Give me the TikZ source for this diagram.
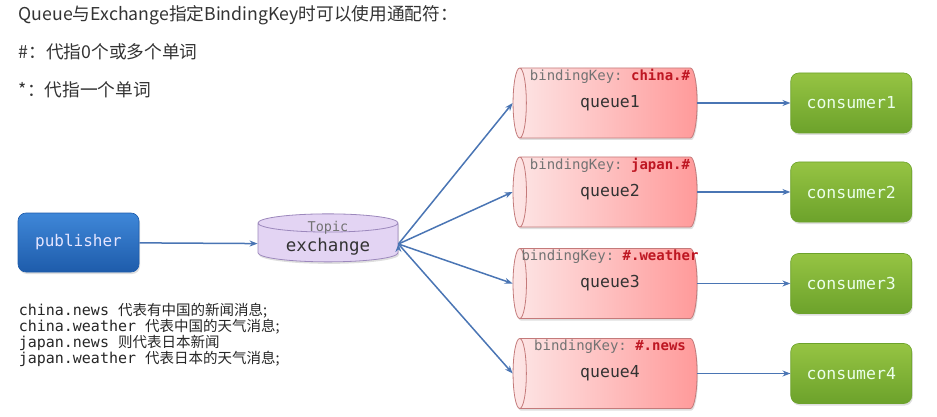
\documentclass[tikz,border=0pt]{standalone}
\usepackage{fontspec}
\setmainfont{Noto Sans CJK SC}
\setmonofont{DejaVu Sans Mono}
\newfontfamily\cjk{Noto Sans CJK SC}
\usepackage{xcolor}
\usepackage{tikz}
\usetikzlibrary{positioning,arrows.meta,shapes.geometric,shadows}

\definecolor{linkblue}{HTML}{4A75B4}
\definecolor{pubtop}{HTML}{3F87D8}
\definecolor{pubbot}{HTML}{1E5CAB}
\definecolor{contop}{HTML}{96C443}
\definecolor{conbot}{HTML}{6CA22B}
\definecolor{qleft}{HTML}{FDE6E6}
\definecolor{qright}{HTML}{FF9A9A}
\definecolor{qline}{HTML}{C47A7A}
\definecolor{exfill}{HTML}{E3D4F3}
\definecolor{exline}{HTML}{9C88BC}
\definecolor{keyred}{HTML}{BE1622}

\begin{document}
\begin{tikzpicture}[x=1pt,y=-1pt,->,>={Stealth[length=8pt,width=6pt]},
                    line width=1.5pt,
                    soft shadow/.style={drop shadow={opacity=0.25,shadow xshift=1pt,shadow yshift=-2pt}},
                    pub node/.style={rectangle,rounded corners=8pt,minimum width=121pt,minimum height=59pt,
                    top color=pubtop,bottom color=pubbot,draw=pubbot,line width=0.6pt,text=white!90!blue,
                    font=\ttfamily\fontsize{16}{18}\selectfont,soft shadow},
                    con node/.style={rectangle,rounded corners=8pt,minimum width=121pt,minimum height=60pt,
                    top color=contop,bottom color=conbot,draw=conbot,line width=0.6pt,text=white!92!green,
                    font=\ttfamily\fontsize{16.5}{18}\selectfont,soft shadow},
                    queue node/.style={cylinder,shape border rotate=180,aspect=0.6,
                    minimum width=70pt,minimum height=184pt,draw=qline,line width=0.8pt,
                    left color=qleft,right color=qright,text=black!80,
                    font=\ttfamily\fontsize{16.5}{18}\selectfont,soft shadow},
                    ex node/.style={cylinder,shape border rotate=90,aspect=0.2,
                    minimum width=140pt,minimum height=48pt,draw=exline,line width=0.8pt,
                    fill=exfill,text=black!80,font=\ttfamily\fontsize{17.5}{18}\selectfont,soft shadow},
                    key label/.style={anchor=north,yshift=-1pt,inner sep=0pt,text=black!55,
                    font=\ttfamily\fontsize{14}{16}\selectfont}]

\useasboundingbox (0,0) rectangle (937,417);

% wildcard rules
\node[anchor=west,inner sep=0pt,text=black!80,font=\fontsize{17.7}{20}\selectfont] (title) at (18,15)
    {Queue与Exchange指定BindingKey时可以使用通配符：};
\node[anchor=west,inner sep=0pt,text=black!80,font=\fontsize{17.7}{20}\selectfont] (hash) at (18,52)
    {\#：代指0个或多个单词};
\node[anchor=west,inner sep=0pt,text=black!80,font=\fontsize{17.7}{20}\selectfont] (star) at (18,90)
    {*：代指一个单词};

\node[pub node] (pub) at (78.5,242.5) {publisher};
\node[ex node,label={[key label,yshift=-6pt,font=\ttfamily\fontsize{13.5}{16}\selectfont]north:Topic}]
    (ex) at (328,244) {\raisebox{-7pt}[0pt][0pt]{exchange}};

\node[queue node,label={[key label]north:{bindingKey: \textcolor{keyred}{\textbf{china.\#}}}}]
    (q1) at (610,103) {queue1};
\node[queue node,label={[key label]north:{bindingKey: \textcolor{keyred}{\textbf{japan.\#}}}}]
    (q2) at (610,192) {queue2};
\node[queue node,label={[key label]north:{bindingKey: \textcolor{keyred}{\textbf{\#.weather}}}}]
    (q3) at (610,283.5) {queue3};
\node[queue node,label={[key label]north:{bindingKey: \textcolor{keyred}{\textbf{\#.news}}}}]
    (q4) at (610,373.5) {queue4};

\node[con node,right=93pt of q1] (c1) {consumer1};
\node[con node,right=93pt of q2] (c2) {consumer2};
\node[con node,right=93pt of q3] (c3) {consumer3};
\node[con node,right=93pt of q4] (c4) {consumer4};

\path[draw=linkblue]
    (pub) edge (ex)
    (ex.east) edge (q1.west)
              edge (q2.west)
              edge (q3.west)
              edge (q4.west)
    (q1) edge (c1)
    (q2) edge (c2)
    (q3) edge (c3)
    (q4) edge (c4);

% routing key examples
\node[anchor=north west,align=left,inner sep=0pt,text=black!85,
      font=\ttfamily\fontsize{15}{16}\selectfont] (notes) at (18,302)
    {china.news {\cjk\fontsize{14.5}{16}\selectfont 代表有中国的新闻消息;}\\
     china.weather {\cjk\fontsize{14.5}{16}\selectfont 代表中国的天气消息;}\\
     japan.news {\cjk\fontsize{14.5}{16}\selectfont 则代表日本新闻}\\
     japan.weather {\cjk\fontsize{14.5}{16}\selectfont 代表日本的天气消息;}};

\end{tikzpicture}
\end{document}
